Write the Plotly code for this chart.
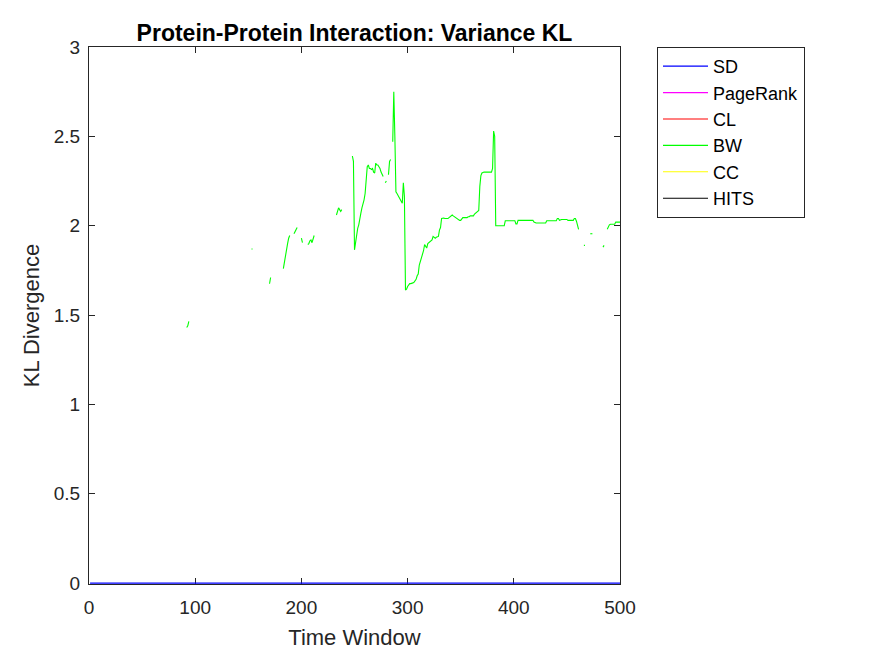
import plotly.graph_objects as go

# ---- data ----
sd_time = list(range(1, 501))
sd_kl = [0.0] * 500

# BW (green) is drawn as separate segments; gaps are missing values
bw_seg_start = [92, 153, 170, 183, 193, 200, 206, 233, 248, 279, 282, 286, 466, 472, 484, 488]
bw_seg_values = [
    [1.43, 1.44, 1.465],
    [1.87, 1.87],
    [1.675, 1.71],
    [1.76, 1.80, 1.83, 1.86, 1.90, 1.93, 1.945],
    [1.955, 1.965, 1.98, 1.99],
    [1.93, 1.905],
    [1.895, 1.90, 1.915, 1.92, 1.905, 1.925, 1.945],
    [2.06, 2.08, 2.10, 2.09, 2.08, 2.09],
    [2.39, 2.36, 1.865, 1.91, 1.96, 1.985, 2.005, 2.03, 2.07, 2.10, 2.12, 2.145, 2.18,
     2.25, 2.33, 2.34, 2.32, 2.32, 2.315, 2.32, 2.30, 2.295, 2.35, 2.34, 2.34, 2.33,
     2.32, 2.30, 2.285, 2.275],
    [2.24, 2.25],
    [2.285, 2.36, 2.37],
    [2.47, 2.75, 2.50, 2.19, 2.18, 2.17, 2.16, 2.15, 2.14, 2.126, 2.24, 2.165,
     1.64, 1.645, 1.66, 1.67, 1.676, 1.676, 1.676, 1.68, 1.683, 1.69, 1.70, 1.72,
     1.73, 1.78, 1.80, 1.81, 1.84, 1.86, 1.894, 1.885, 1.875, 1.90, 1.905, 1.91,
     1.915, 1.92, 1.94, 1.935, 1.93, 1.935, 1.94, 1.94, 1.975, 1.99, 2.04, 2.043,
     2.043, 2.04, 2.04, 2.04, 2.04, 2.045, 2.05, 2.06, 2.06, 2.055, 2.05, 2.05,
     2.045, 2.04, 2.035, 2.03, 2.03, 2.04, 2.045, 2.045, 2.045, 2.045, 2.045, 2.05,
     2.05, 2.055, 2.055, 2.055, 2.055, 2.065, 2.07, 2.075, 2.08, 2.085, 2.22, 2.28,
     2.295, 2.30, 2.30, 2.30, 2.30, 2.30, 2.30, 2.30, 2.30, 2.30, 2.32, 2.53, 2.50,
     2.00, 2.00, 2.00, 2.00, 2.00, 2.00, 2.00, 2.00, 2.00,
     2.028, 2.028, 2.028, 2.028, 2.028, 2.028, 2.028, 2.028, 2.028, 2.028,
     2.01, 2.01,
     2.03, 2.03, 2.03, 2.03, 2.03, 2.03, 2.03, 2.03, 2.03, 2.03, 2.03, 2.03, 2.03,
     2.03, 2.03, 2.02,
     2.015, 2.015, 2.015, 2.015, 2.015, 2.015, 2.015, 2.015, 2.015, 2.015, 2.015,
     2.028, 2.028, 2.028, 2.028, 2.028, 2.028, 2.028, 2.028, 2.028, 2.028,
     2.04, 2.04, 2.03, 2.035, 2.035, 2.035, 2.035, 2.035, 2.035, 2.035,
     2.03, 2.03, 2.03, 2.03, 2.03, 2.03, 2.04, 2.04, 2.025, 2.00, 1.98],
    [1.89, 1.89],
    [1.955, 1.955, 1.955],
    [1.88, 1.89],
    [1.98, 1.995, 2.005, 2.008, 2.008, 2.008, 2.008, 2.008, 2.02, 2.02, 2.02, 2.02, 2.02],
]

series_names = ["SD", "PageRank", "CL", "BW", "CC", "HITS"]
series_colors = ["#0000FF", "#FF00FF", "#FF0000", "#00FF00", "#FFFF00", "#000000"]

bw_time, bw_kl = [], []
for start, vals in zip(bw_seg_start, bw_seg_values):
    bw_time += [start + i for i in range(len(vals))] + [None]
    bw_kl += list(vals) + [None]

FONT = "Liberation Sans, Arial, Helvetica, sans-serif"
AX = "#262626"

fig = go.Figure()
for name, color in zip(series_names, series_colors):
    if name == "SD":
        x, y, w = sd_time, sd_kl, 1.2
    elif name == "BW":
        x, y, w = bw_time, bw_kl, 1.1
    else:
        x, y, w = [1, 2], [None, None], 1.1
    fig.add_trace(go.Scatter(x=x, y=y, mode="lines", name=name,
                             line=dict(color=color, width=w), connectgaps=False))

axis_common = dict(
    showgrid=False, zeroline=False, showline=True, linecolor=AX, linewidth=1,
    mirror="ticks", ticks="inside", ticklen=6, tickwidth=1, tickcolor=AX,
    tickfont=dict(family=FONT, size=19, color=AX),
)

fig.update_layout(
    width=875, height=656,
    margin=dict(l=89, r=255, t=47, b=72),
    paper_bgcolor="white", plot_bgcolor="white",
    font=dict(family=FONT, color=AX),
    title=dict(text="<b>Protein-Protein Interaction: Variance KL</b>",
               font=dict(family=FONT, size=23, color="black"),
               x=0.5, xanchor="center",
               y=1 - 33 / 656, yanchor="middle", xref="paper", yref="container"),
    xaxis=dict(range=[0, 500], tickvals=[0, 100, 200, 300, 400, 500],
               title=dict(text="Time Window", font=dict(family=FONT, size=22, color=AX), standoff=12),
               layer="below traces", ticklabelstandoff=6, **axis_common),
    yaxis=dict(range=[-0.005, 3], tickvals=[0, 0.5, 1, 1.5, 2, 2.5, 3],
               title=dict(text="KL Divergence", font=dict(family=FONT, size=22, color=AX), standoff=8),
               layer="below traces", ticklabelstandoff=4, **axis_common),
    legend=dict(x=(657 - 89) / 531, y=1, xanchor="left", yanchor="top",
                bordercolor=AX, borderwidth=1, bgcolor="white",
                font=dict(family=FONT, size=18, color="black"),
                itemwidth=45, tracegroupgap=0),
    showlegend=True,
)

fig.write_html("out.html")
